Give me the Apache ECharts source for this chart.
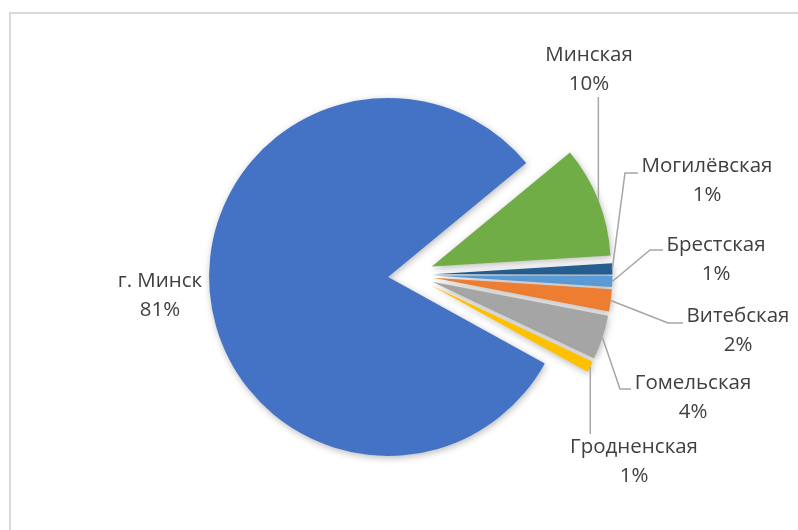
<!DOCTYPE html>
<html>
<head>
<meta charset="utf-8">
<script src="https://cdn.jsdelivr.net/npm/echarts@6/dist/echarts.min.js"></script>
<style>
  html, body { margin: 0; padding: 0; background: #ffffff; }
  #chart { width: 798px; height: 530px; }
</style>
</head>
<body>
<div id="chart"></div>
<script>
// Regions, drawn clockwise from the upper edge of the city slice
const regions = ['Минская', 'Могилёвская', 'Брестская', 'Витебская', 'Гомельская', 'Гродненская', 'г. Минск'];
// Share of each region, percent
const shares = [10, 1, 1, 2, 4, 1, 81];
// Slice colours
const colors = ['#70AD47', '#255E91', '#5B9BD5', '#ED7D31', '#A5A5A5', '#FFC000', '#4472C4'];

const PIE_CENTER = [410.7, 274.8];
const PIE_RADIUS = 179;
const PULL = 22.7;   // every slice is pulled out by the same distance

// Label placement: centre of the text block, and the elbow of each leader line
const labelSpots = [
  { x: 589, y: 70, bend: p => [[p[0], 97]] },
  { x: 707, y: 181, bend: () => [[625, 173], [638, 173]] },
  { x: 716, y: 260, bend: () => [[650, 250], [663, 250]] },
  { x: 738, y: 331, bend: () => [[668, 323], [683, 323]] },
  { x: 693, y: 398, bend: () => [[620, 389], [631, 389]] },
  { x: 634, y: 462, bend: p => [[p[0], 434]] },
  { x: 160, y: 296, bend: null }
];

const chart = echarts.init(document.getElementById('chart'), null, { renderer: 'canvas' });

const sharedPie = {
  type: 'pie',
  center: PIE_CENTER,
  radius: PIE_RADIUS,
  startAngle: 39.5,
  clockwise: true,
  avoidLabelOverlap: false,
  emphasis: { disabled: true }
};

// Slices
const sliceData = regions.map((name, i) => ({
  name: name,
  value: shares[i],
  selected: true,
  itemStyle: { color: colors[i] }
}));

// Same slices again, unpainted, carrying the labels and leader lines
const labelData = regions.map((name, i) => ({
  name: name,
  value: shares[i],
  labelLine: { show: labelSpots[i].bend !== null }
}));

chart.setOption({
  animation: false,
  backgroundColor: '#ffffff',
  graphic: [{
    type: 'rect',
    shape: { x: 10, y: 13, width: 900, height: 700 },
    style: { fill: 'none', stroke: '#d9d9d9', lineWidth: 2 },
    silent: true
  }],
  series: [
    Object.assign({}, sharedPie, {
      name: 'slices',
      z: 2,
      selectedMode: 'multiple',
      selectedOffset: PULL,
      data: sliceData,
      itemStyle: {
        shadowBlur: 7,
        shadowColor: 'rgba(0,0,0,0.28)',
        shadowOffsetX: 1,
        shadowOffsetY: 2
      },
      label: { show: false },
      labelLine: { show: false }
    }),
    Object.assign({}, sharedPie, {
      name: 'labels',
      z: 3,
      silent: true,
      selectedMode: false,
      data: labelData,
      itemStyle: { color: 'rgba(0,0,0,0)' },
      label: {
        show: true,
        position: 'outside',
        formatter: p => p.name + '\n' + Math.round(p.percent) + '%',
        fontFamily: 'Open Sans',
        fontSize: 20.5,
        lineHeight: 29,
        color: '#404040',
        align: 'center'
      },
      labelLine: {
        show: true,
        length: 10,
        length2: 10,
        lineStyle: { color: '#a6a6a6', width: 1.5 }
      },
      labelLayout: function (params) {
        const spot = labelSpots[params.dataIndex];
        const out = { x: spot.x, y: spot.y, align: 'center', verticalAlign: 'middle' };
        if (spot.bend && params.labelLinePoints) {
          // move the anchor out with its pulled-out slice
          const p0 = params.labelLinePoints[0];
          const dx = p0[0] - PIE_CENTER[0];
          const dy = p0[1] - PIE_CENTER[1];
          const len = Math.sqrt(dx * dx + dy * dy) || 1;
          const start = [p0[0] + dx / len * PULL, p0[1] + dy / len * PULL];
          out.labelLinePoints = [start].concat(spot.bend(start));
        }
        return out;
      }
    })
  ]
});
</script>
</body>
</html>
